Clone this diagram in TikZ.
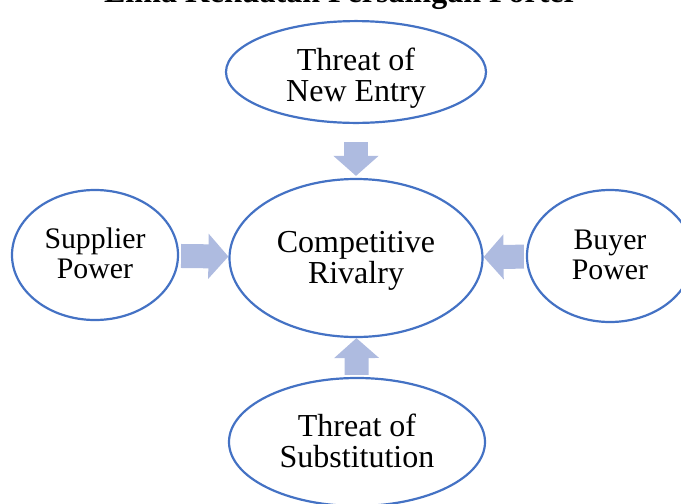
\documentclass[tikz,border=0pt]{standalone}
\usepackage{fontspec}
\setmainfont{Liberation Serif}
\usetikzlibrary{shapes.geometric,arrows.meta}

\definecolor{ringblue}{RGB}{68,114,196}
\definecolor{arrowblue}{RGB}{174,187,224}

% fixed line struts so the two lines sit the same way in every ring
\newcommand{\toplift}{\rule{0pt}{26pt}}
\newcommand{\toplifthi}{\rule{0pt}{34pt}}
\newcommand{\botdrop}{\rule[-7pt]{0pt}{7pt}}
\newcommand{\toplifts}{\rule{0pt}{24pt}}
\newcommand{\botdrops}{\rule[-8pt]{0pt}{8pt}}

\begin{document}
\begin{tikzpicture}[x=1pt, y=-1pt,
    force/.style={draw=ringblue, line width=2.2pt, ellipse, align=center,
      inner sep=0pt, font=\fontsize{32}{31}\selectfont},
    sideforce/.style={force, font=\fontsize{29.8}{30}\selectfont},
    bigarrow/.style={draw=arrowblue, line width=24pt,
      -{Triangle[length=20pt, width=44pt, fill=arrowblue]}}]
    \useasboundingbox (0,0) rectangle (681,504);

    \node[anchor=base, font=\bfseries\fontsize{32}{34}\selectfont] (title) at (341,2.5) {Lima Kekuatan Persaingan Porter};

    \node[force, minimum width=260pt, minimum height=100pt] (threat) at (356,72) {\toplifthi Threat of\\New Entry\botdrop};
    \node[force, minimum width=253pt, minimum height=158pt] (rivalry) at (356,258) {\toplift Competitive\\Rivalry\botdrop};
    \node[sideforce, minimum width=166pt, minimum height=130pt] (supplier) at (95,255) {\toplifts Supplier\\Power\botdrops};
    \node[sideforce, minimum width=166pt, minimum height=132pt] (buyer) at (610,256) {\toplifts Buyer\\Power\botdrops};
    \node[force, minimum width=256pt, minimum height=128pt] (subst) at (357,442) {\toplift Threat of\\Substitution\botdrop};

    \draw[bigarrow, shorten <=18pt, shorten >=2pt] (threat) -- (rivalry);
    \draw[bigarrow, shorten <=2pt] (supplier) -- (rivalry);
    \draw[bigarrow, shorten <=2pt] (buyer) -- (rivalry);
    \draw[bigarrow, shorten <=2pt] (subst) -- (rivalry);
\end{tikzpicture}
\end{document}
